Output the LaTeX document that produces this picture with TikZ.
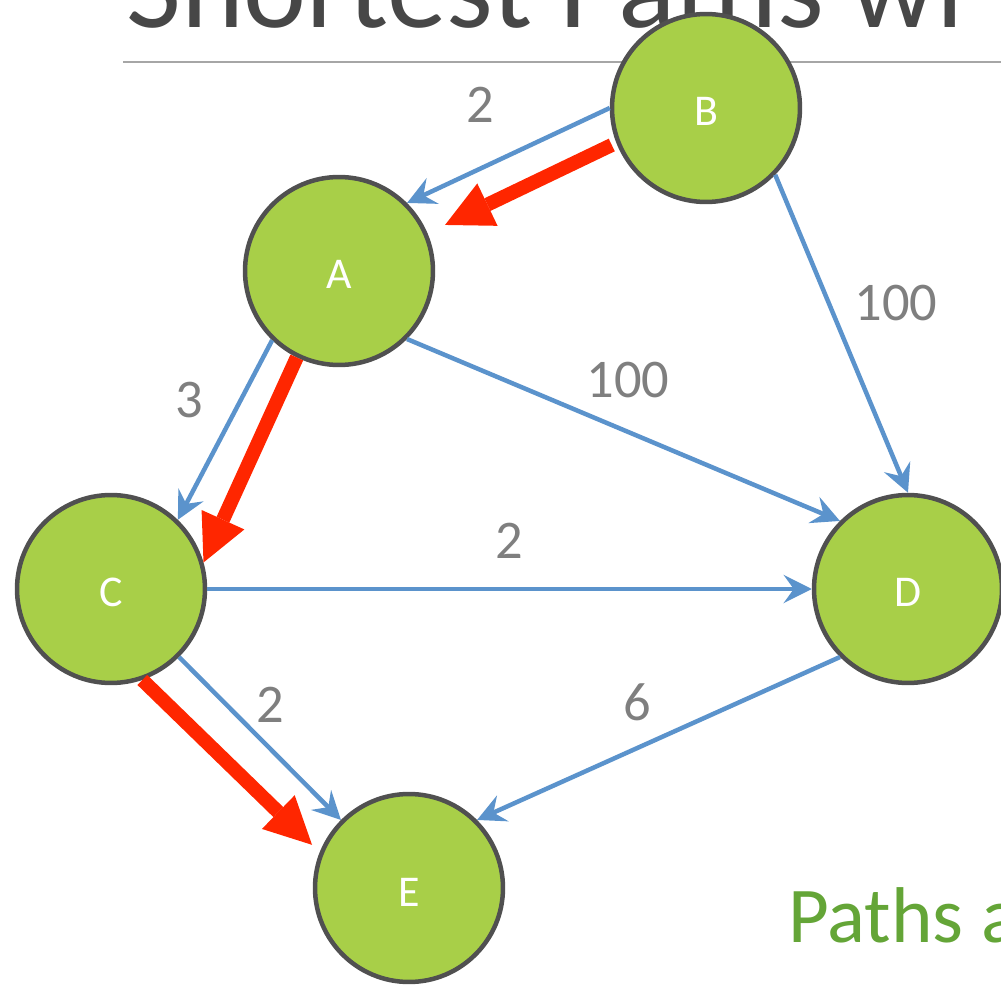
\documentclass[tikz,border=0pt]{standalone}
\usepackage{fontspec}
\setmainfont{Carlito}
\usetikzlibrary{arrows.meta}
\definecolor{SlideGreen}{HTML}{A8CF48}
\definecolor{SlideRim}{HTML}{505050}
\definecolor{SlideBlue}{HTML}{5B93CC}
\definecolor{SlideRed}{HTML}{FF2600}
\definecolor{SlideGray}{HTML}{7F7F7F}
\definecolor{SlideTitle}{HTML}{474747}
\definecolor{SlideRule}{HTML}{A6A6A6}
\definecolor{SlideText}{HTML}{64A537}
\tikzset{
  vertex/.style={circle,draw=SlideRim,fill=SlideGreen,line width=0.09cm,
    minimum size=3.76cm,inner sep=0pt,text=white,text height=0.72cm,
    font=\fontsize{25}{30}\selectfont},
  cost/.style={text=SlideGray,inner sep=0pt,
    font=\fontsize{31}{37}\selectfont},
  link/.style={draw=SlideBlue,line width=0.09cm,
    -{Stealth[length=0.56cm,width=0.56cm,inset=0.2cm]}},
  best/.style={draw=SlideRed,line width=0.28cm,
    -{Triangle[length=0.94cm,width=0.94cm,line width=0pt]}},
}
\begin{document}
\begin{tikzpicture}[x=0.02cm,y=-0.02cm]
  \useasboundingbox (0,0) rectangle (1001,986);
  \clip (0,0) rectangle (1001,986);

  % Slide {{{
  \node[anchor=base west,inner sep=0pt,text=SlideTitle,
    font=\fontsize{68}{80}\selectfont] (title) at (126,28) {Shortest Paths wi};
  \draw[SlideRule,line width=0.04cm] (123,62) -- (1001,62);
  \node[anchor=base west,inner sep=0pt,text=SlideText,
    font=\fontsize{45}{54}\selectfont] (note) at (788,942) {Paths a};
  % }}}

  % Graph {{{
  \node[vertex] (B) at (706,108) {B};
  \node[vertex] (A) at (339,271) {A};
  \node[vertex] (C) at (111,589) {C};
  \node[vertex] (D) at (908,589) {D};
  \node[vertex] (E) at (409,888) {E};

  \draw[link] (B.180) -- (A.45);
  \draw[link] (B.-44) -- (D.90);
  \draw[link] (A.-45) -- (D.135);
  \draw[link] (A.-134) -- (C.46);
  \draw[link] (C.0) -- (D.180);
  \draw[link] (C.-45) -- (E.135);
  \draw[link] (D.-135) -- (E.45);

  \node[cost] (wBA) at (480,105) {2};
  \node[cost] (wBD) at (896,303) {100};
  \node[cost] (wAD) at (628,380) {100};
  \node[cost] (wAC) at (189,400) {3};
  \node[cost] (wCD) at (509,541) {2};
  \node[cost] (wCE) at (270,705) {2};
  \node[cost] (wDE) at (637,702) {6};
  % }}}

  % Shortest path {{{
  \draw[best] ([shift={(2,37)}]B.180) -- ([shift={(38,22)}]A.45);
  \draw[best] (A.-116) -- (C.16);
  \draw[best] (C.-71) -- ([shift={(-12,2)}]E.152);
  % }}}
\end{tikzpicture}
\end{document}
